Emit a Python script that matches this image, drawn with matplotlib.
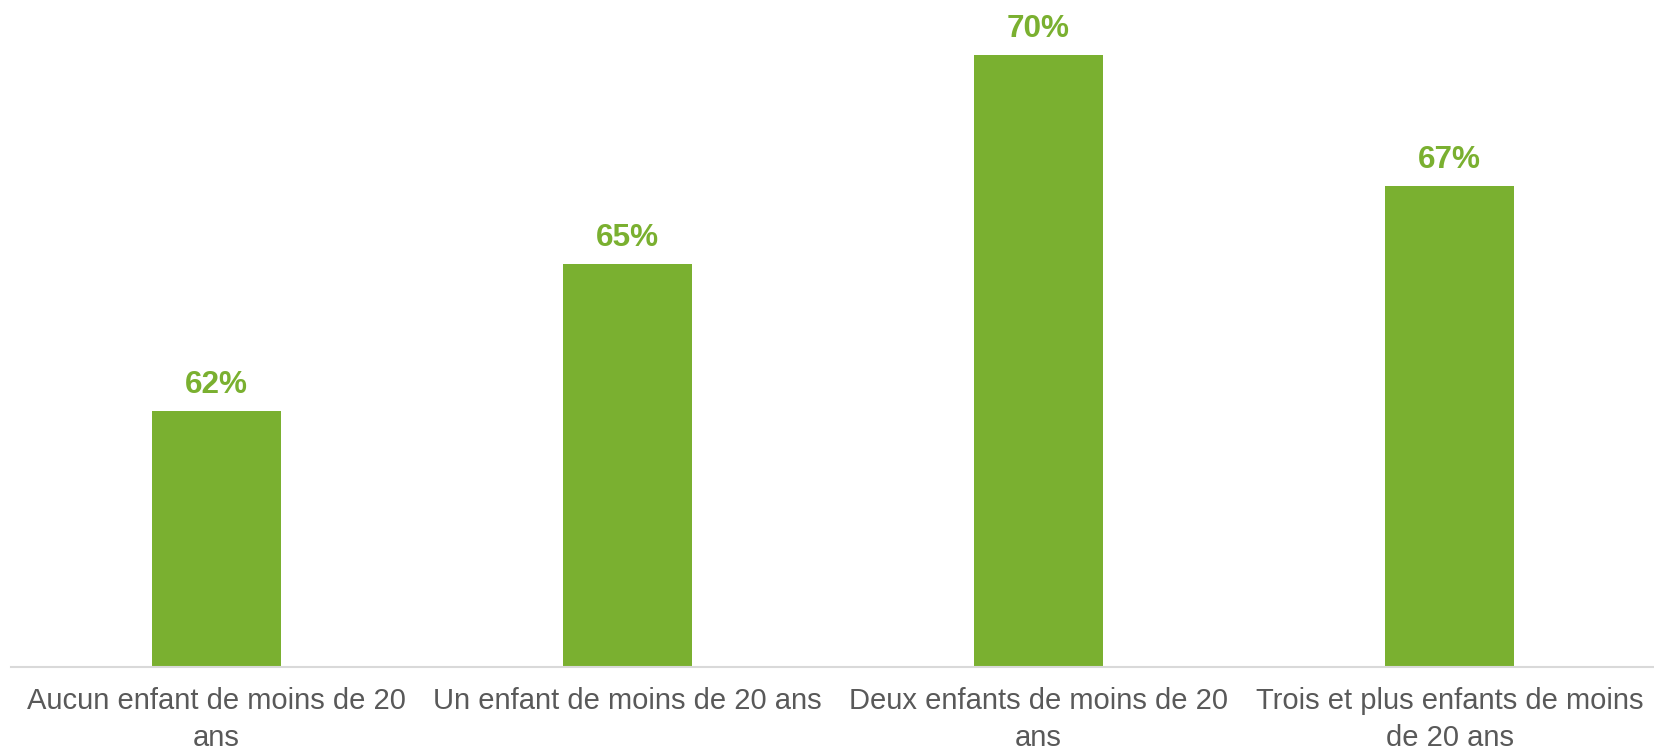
import matplotlib
matplotlib.use("Agg")
import matplotlib.pyplot as plt
from matplotlib.font_manager import FontProperties

categories = ["Aucun enfant de moins de 20\nans",
              "Un enfant de moins de 20 ans",
              "Deux enfants de moins de 20\nans",
              "Trois et plus enfants de moins\nde 20 ans"]
values = [61.85, 65.2, 70.0, 67.0]
labels = ["62%", "65%", "70%", "67%"]

plt.rcParams['font.family'] = ['Liberation Sans', 'DejaVu Sans']

W, H = 1654, 750
fig = plt.figure(figsize=(W/100, H/100), dpi=100)
ax = fig.add_axes([11/W, (H-666.5)/H, (1655-11)/W, 666.5/H])

green = "#7AB030"
x = list(range(len(categories)))
ax.bar(x, values, width=0.314, color=green, bottom=0)
ax.set_xlim(-0.5, 3.5)
ax.set_ylim(56, 71.25)

for xi, v, lab in zip(x, values, labels):
    ax.annotate(lab, (xi, v), xytext=(0, 8), textcoords="offset points",
                ha="center", va="bottom", fontsize=22.7, fontweight="bold",
                color=green)

# line spacing tuned to the reference baseline gap
tick_fs = 21.0
renderer = fig.canvas.get_renderer()
fp = FontProperties(family=['Liberation Sans'], size=tick_fs)
_, lp_h, lp_d = renderer.get_text_width_height_descent("lp", fp, ismath=False)
ls = 30.5 / (lp_h - lp_d)
pad_px = 42.5 - (lp_h - lp_d)

ax.set_xticks(x)
ax.set_xticklabels(categories, fontsize=tick_fs, color="#595959", linespacing=ls)
ax.tick_params(axis="x", length=0, pad=pad_px * 72 / 100)
ax.set_yticks([])
for s in ["top", "left", "right"]:
    ax.spines[s].set_visible(False)
ax.spines["bottom"].set_color("#D9D9D9")
ax.spines["bottom"].set_linewidth(1.5)

fig.savefig("out.png", dpi=100)
